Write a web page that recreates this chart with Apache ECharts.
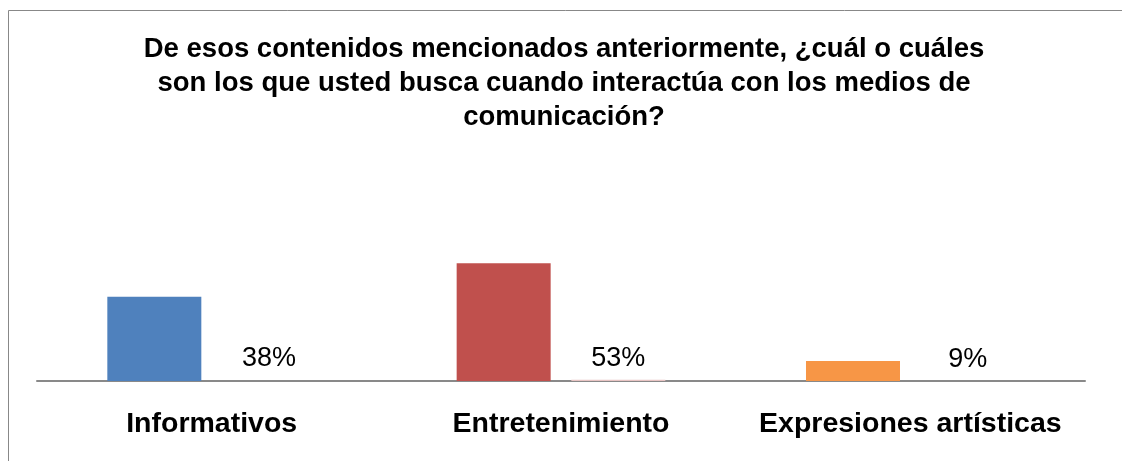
<!DOCTYPE html>
<html>
<head>
<meta charset="utf-8">
<script src="https://cdn.jsdelivr.net/npm/echarts@6/dist/echarts.min.js"></script>
<style>
  html, body { margin: 0; padding: 0; background: #fff; }
  #chart { width: 1122px; height: 461px; }
</style>
</head>
<body>
<div id="chart"></div>
<script>
var chart = echarts.init(document.getElementById('chart'));

// datos
var categorias = ['Informativos', 'Entretenimiento', 'Expresiones artísticas'];
var valores = [38, 53, 9];
var porcentajes = [0.38, 0.53, 0.09];
var colores = ['#4f81bd', '#c0504d', '#f79646'];

var option = {
    backgroundColor: '#fff',
    title: {
        text: 'De esos contenidos mencionados anteriormente, ¿cuál o cuáles\nson los que usted busca cuando interactúa con los medios de\ncomunicación?',
        left: 559,
        textAlign: 'center',
        top: 27,
        textStyle: {
            fontFamily: 'Liberation Sans, Arial',
            fontWeight: 'bold',
            fontSize: 27.5,
            lineHeight: 34,
            color: '#000'
        }
    },
    graphic: [{
        type: 'rect',
        shape: { x: 8.5, y: 10.5, width: 1300, height: 600 },
        style: { fill: 'none', stroke: '#888', lineWidth: 1 },
        silent: true
    }],
    grid: { left: 37, right: 37, top: 159, bottom: 80 },
    xAxis: {
        type: 'category',
        data: categorias,
        axisLine: { lineStyle: { color: '#898989', width: 2 } },
        axisTick: { show: false },
        axisLabel: {
            interval: 0,
            hideOverlap: false,
            margin: 29,
            fontFamily: 'Liberation Sans, Arial',
            fontWeight: 'bold',
            fontSize: 28.5,
            color: '#000'
        }
    },
    yAxis: {
        type: 'value',
        min: 0,
        max: 100,
        show: false,
        splitLine: { show: false }
    },
    series: [
        {
            type: 'bar',
            barWidth: 94,
            barGap: '22%',
            data: valores.map(function (v, i) {
                return { value: v, itemStyle: { color: colores[i] } };
            })
        },
        {
            type: 'bar',
            barWidth: 94,
            data: porcentajes.map(function (v, i) {
                return { value: v, itemStyle: { color: i === 1 ? '#e8c4c3' : 'rgba(0,0,0,0)' } };
            }),
            label: {
                show: true,
                position: 'top',
                distance: 8,
                fontFamily: 'Liberation Sans, Arial',
                fontSize: 27,
                color: '#000',
                formatter: function (p) {
                    return Math.round(p.value * 100) + '%';
                }
            }
        }
    ]
};

chart.setOption(option);
</script>
</body>
</html>
